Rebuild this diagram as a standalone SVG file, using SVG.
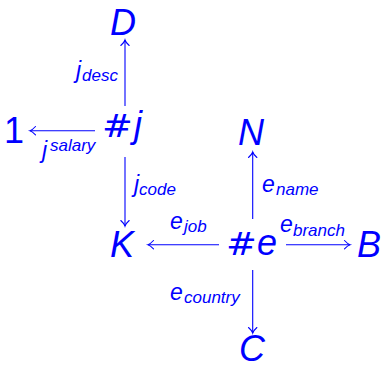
<svg xmlns="http://www.w3.org/2000/svg" width="384" height="368" viewBox="0 0 384 368">
<defs>
<style>
text{fill:#0000ff;font-family:"Liberation Sans",Arial,sans-serif}
.n{font-size:36px;font-style:italic}
.up{font-style:normal}
.hash{font-family:"DejaVu Sans",sans-serif;font-size:32px;font-style:normal}
.l{font-size:23px;font-style:italic}
.s{font-size:17px;font-style:italic}
.e{stroke:#0000ff;stroke-width:1.1;fill:none;marker-end:url(#ah)}
</style>
<marker id="ah" markerUnits="userSpaceOnUse" markerWidth="12" markerHeight="12" viewBox="-7 -6 8 12" refX="0" refY="0" orient="auto">
<path d="M-5.5,-4.2 Q-2.2,-0.6 0,0 Q-2.2,0.6 -5.5,4.2" fill="none" stroke="#0000ff" stroke-width="1.1" stroke-linecap="round"/>
</marker>
</defs>
<g id="connectors">
<g id="e-j-D"><line class="e" x1="125" y1="106" x2="125" y2="40"/><text class="l" x="76" y="78">j<tspan class="s" x="82" y="81">desc</tspan></text></g>
<g id="e-j-1"><line class="e" x1="95" y1="130.7" x2="30" y2="130.7"/><text class="l" x="42" y="158">j<tspan class="s" x="50" y="151">salary</tspan></text></g>
<g id="e-j-K"><line class="e" x1="125" y1="157" x2="125" y2="226"/><text class="l" x="134" y="192">j<tspan class="s" x="139" y="195">code</tspan></text></g>
<g id="e-e-K"><line class="e" x1="219" y1="244.7" x2="148" y2="244.7"/><text class="l" x="170" y="229">e<tspan class="s" x="184" y="232">job</tspan></text></g>
<g id="e-e-B"><line class="e" x1="286" y1="244.7" x2="350" y2="244.7"/><text class="l" x="280" y="232">e<tspan class="s" x="293" y="236">branch</tspan></text></g>
<g id="e-e-N"><line class="e" x1="252.7" y1="219" x2="252.7" y2="152"/><text class="l" x="262" y="192">e<tspan class="s" x="276" y="195">name</tspan></text></g>
<g id="e-e-C"><line class="e" x1="252.7" y1="270" x2="252.7" y2="333"/><text class="l" x="170" y="300">e<tspan class="s" x="184" y="303">country</tspan></text></g>
</g>
<g id="node-D"><text class="n" x="123" y="35" text-anchor="middle">D</text></g>
<g id="node-1"><text class="n up" x="14" y="143" text-anchor="middle">1</text></g>
<g id="node-hj"><text class="hash" transform="translate(102,137) scale(1.15,1)">#</text><text class="n" x="134" y="137">j</text></g>
<g id="node-N"><text class="n" x="251" y="145" text-anchor="middle">N</text></g>
<g id="node-K"><text class="n" x="122" y="257" text-anchor="middle">K</text></g>
<g id="node-he"><text class="hash" transform="translate(226,255) scale(1.15,1)">#</text><text class="n" x="257" y="255">e</text></g>
<g id="node-B"><text class="n" x="369" y="257" text-anchor="middle">B</text></g>
<g id="node-C"><text class="n" x="252" y="361" text-anchor="middle">C</text></g>
</svg>
